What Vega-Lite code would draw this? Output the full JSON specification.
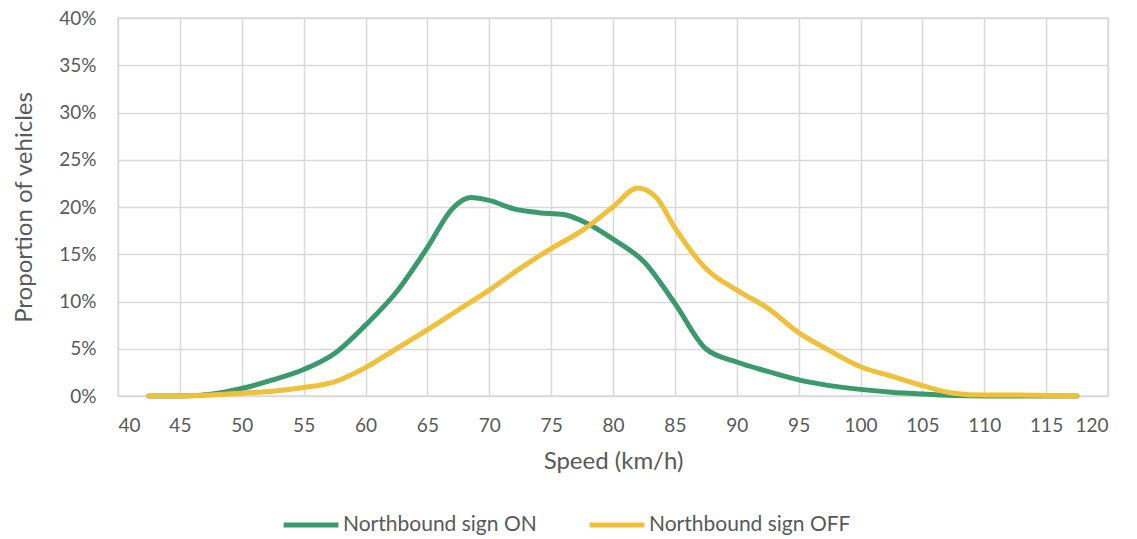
{
  "$schema": "https://vega.github.io/schema/vega-lite/v6.json",
  "width": 990,
  "height": 378,
  "autosize": {"type": "none"},
  "padding": {"left": 118, "top": 18, "right": 29, "bottom": 143},
  "background": "white",
  "config": {
    "view": {"stroke": "#d9d9d9", "strokeWidth": 1.5},
    "font": "Lato"
  },
  "data": {
    "values": [
      {"speed": 42.5, "p": 0.0, "series": "Northbound sign ON"},
      {"speed": 45, "p": 0.0, "series": "Northbound sign ON"},
      {"speed": 47.5, "p": 0.002, "series": "Northbound sign ON"},
      {"speed": 50, "p": 0.008, "series": "Northbound sign ON"},
      {"speed": 52.5, "p": 0.017, "series": "Northbound sign ON"},
      {"speed": 55, "p": 0.028, "series": "Northbound sign ON"},
      {"speed": 57.5, "p": 0.045, "series": "Northbound sign ON"},
      {"speed": 60, "p": 0.075, "series": "Northbound sign ON"},
      {"speed": 62.5, "p": 0.11, "series": "Northbound sign ON"},
      {"speed": 65, "p": 0.157, "series": "Northbound sign ON"},
      {"speed": 67, "p": 0.198, "series": "Northbound sign ON"},
      {"speed": 68.5, "p": 0.21, "series": "Northbound sign ON"},
      {"speed": 70, "p": 0.207, "series": "Northbound sign ON"},
      {"speed": 72, "p": 0.198, "series": "Northbound sign ON"},
      {"speed": 74, "p": 0.194, "series": "Northbound sign ON"},
      {"speed": 76, "p": 0.192, "series": "Northbound sign ON"},
      {"speed": 78, "p": 0.182, "series": "Northbound sign ON"},
      {"speed": 80, "p": 0.166, "series": "Northbound sign ON"},
      {"speed": 82.5, "p": 0.142, "series": "Northbound sign ON"},
      {"speed": 85, "p": 0.098, "series": "Northbound sign ON"},
      {"speed": 87.5, "p": 0.05, "series": "Northbound sign ON"},
      {"speed": 90, "p": 0.036, "series": "Northbound sign ON"},
      {"speed": 92.5, "p": 0.026, "series": "Northbound sign ON"},
      {"speed": 95, "p": 0.017, "series": "Northbound sign ON"},
      {"speed": 97.5, "p": 0.011, "series": "Northbound sign ON"},
      {"speed": 100, "p": 0.007, "series": "Northbound sign ON"},
      {"speed": 102.5, "p": 0.004, "series": "Northbound sign ON"},
      {"speed": 105, "p": 0.002, "series": "Northbound sign ON"},
      {"speed": 107.5, "p": 0.0005, "series": "Northbound sign ON"},
      {"speed": 110, "p": 0.0, "series": "Northbound sign ON"},
      {"speed": 112.5, "p": 0.0, "series": "Northbound sign ON"},
      {"speed": 115, "p": 0.0, "series": "Northbound sign ON"},
      {"speed": 117.5, "p": 0.0, "series": "Northbound sign ON"},
      {"speed": 42.5, "p": 0.0, "series": "Northbound sign OFF"},
      {"speed": 45, "p": 0.0, "series": "Northbound sign OFF"},
      {"speed": 47.5, "p": 0.001, "series": "Northbound sign OFF"},
      {"speed": 50, "p": 0.003, "series": "Northbound sign OFF"},
      {"speed": 52.5, "p": 0.005, "series": "Northbound sign OFF"},
      {"speed": 55, "p": 0.009, "series": "Northbound sign OFF"},
      {"speed": 57.5, "p": 0.015, "series": "Northbound sign OFF"},
      {"speed": 60, "p": 0.03, "series": "Northbound sign OFF"},
      {"speed": 62.5, "p": 0.05, "series": "Northbound sign OFF"},
      {"speed": 65, "p": 0.07, "series": "Northbound sign OFF"},
      {"speed": 67.5, "p": 0.091, "series": "Northbound sign OFF"},
      {"speed": 70, "p": 0.112, "series": "Northbound sign OFF"},
      {"speed": 72.5, "p": 0.135, "series": "Northbound sign OFF"},
      {"speed": 75, "p": 0.156, "series": "Northbound sign OFF"},
      {"speed": 77.5, "p": 0.175, "series": "Northbound sign OFF"},
      {"speed": 80, "p": 0.2, "series": "Northbound sign OFF"},
      {"speed": 82, "p": 0.22, "series": "Northbound sign OFF"},
      {"speed": 83.5, "p": 0.21, "series": "Northbound sign OFF"},
      {"speed": 85, "p": 0.178, "series": "Northbound sign OFF"},
      {"speed": 87.5, "p": 0.135, "series": "Northbound sign OFF"},
      {"speed": 90, "p": 0.112, "series": "Northbound sign OFF"},
      {"speed": 92.5, "p": 0.093, "series": "Northbound sign OFF"},
      {"speed": 95, "p": 0.067, "series": "Northbound sign OFF"},
      {"speed": 97.5, "p": 0.048, "series": "Northbound sign OFF"},
      {"speed": 100, "p": 0.031, "series": "Northbound sign OFF"},
      {"speed": 102.5, "p": 0.021, "series": "Northbound sign OFF"},
      {"speed": 105, "p": 0.011, "series": "Northbound sign OFF"},
      {"speed": 107.5, "p": 0.003, "series": "Northbound sign OFF"},
      {"speed": 110, "p": 0.001, "series": "Northbound sign OFF"},
      {"speed": 112.5, "p": 0.001, "series": "Northbound sign OFF"},
      {"speed": 115, "p": 0.0005, "series": "Northbound sign OFF"},
      {"speed": 117.5, "p": 0.0, "series": "Northbound sign OFF"}
    ]
  },
  "mark": {"type": "line", "interpolate": "monotone", "strokeWidth": 5, "strokeCap": "round"},
  "encoding": {
    "x": {
      "field": "speed", "type": "quantitative",
      "scale": {"domain": [40, 120], "nice": false, "zero": false},
      "axis": {
        "values": [40,45,50,55,60,65,70,75,80,85,90,95,100,105,110,115,120],
        "title": "Speed (km/h)",
        "titleFont": "Lato", "titleFontSize": 24, "titleFontWeight": "normal", "titleColor": "#595959", "titlePadding": 14,
        "labelFont": "Lato", "labelFontSize": 19, "labelColor": "#595959", "labelPadding": 20,
        "domain": false, "ticks": false,
        "grid": true, "gridColor": "#d9d9d9", "gridWidth": 1.5
      }
    },
    "y": {
      "field": "p", "type": "quantitative",
      "scale": {"domain": [0, 0.4], "nice": false},
      "axis": {
        "values": [0,0.05,0.1,0.15,0.2,0.25,0.3,0.35,0.4],
        "format": ".0%",
        "title": "Proportion of vehicles",
        "titleFont": "Lato", "titleFontSize": 24, "titleFontWeight": "normal", "titleColor": "#595959", "titlePadding": 22,
        "labelFont": "Lato", "labelFontSize": 19, "labelColor": "#595959", "labelPadding": 22,
        "domain": false, "ticks": false,
        "grid": true, "gridColor": "#d9d9d9", "gridWidth": 1.5
      }
    },
    "color": {
      "field": "series", "type": "nominal",
      "scale": {"domain": ["Northbound sign ON", "Northbound sign OFF"], "range": ["#3a9a6e", "#f0c03a"]},
      "legend": {
        "title": null,
        "orient": "none",
        "direction": "horizontal",
        "legendX": 163,
        "legendY": 477,
        "symbolType": "stroke",
        "symbolStrokeWidth": 5,
        "symbolSize": 3000,
        "labelFont": "Lato", "labelFontSize": 21, "labelColor": "#595959",
        "labelOffset": 2,
        "columnPadding": 42,
        "labelLimit": 300
      }
    }
  }
}
